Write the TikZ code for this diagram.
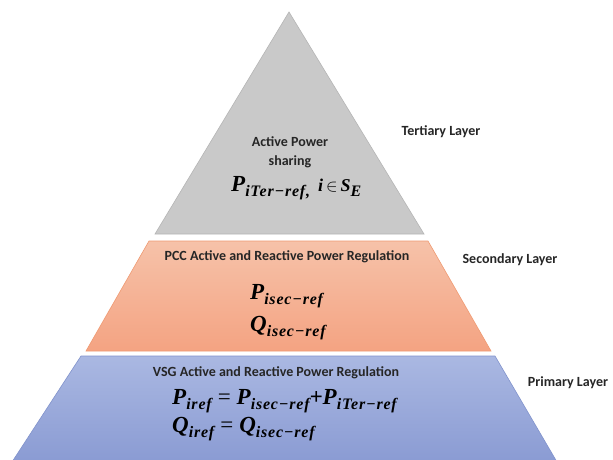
\documentclass[tikz,border=0pt]{standalone}
\usepackage{fontspec}
\setmainfont{Carlito}
\newfontfamily\lbl{Carlito}
\newfontfamily\mf{Liberation Serif}[UprightFont=*/BI]
\newfontfamily\subfnt{Liberation Serif}[UprightFont=*/BI, LetterSpace=5]
\newfontfamily\eqfnt{Liberation Serif}
\newcommand{\subx}[1]{\raisebox{-5pt}{\subfnt\fontsize{16}{16}\selectfont #1}}
\newcommand{\mn}{\char"2212}
\newcommand{\myeq}{\hspace{6pt}{\eqfnt=}\hspace{6pt}}
\begin{document}
\begin{tikzpicture}[x=1pt,y=-1pt,
  layer/.style={line width=0.6pt},
  lab/.style={font=\lbl\bfseries\fontsize{14}{16}\selectfont, text=black!85, inner sep=0pt},
  side/.style={font=\lbl\bfseries\fontsize{14}{16}\selectfont, text=black!85, inner sep=0pt},
  eq/.style={font=\mf\fontsize{23}{26}\selectfont, inner sep=0pt, anchor=west}
]
\definecolor{grayfill}{HTML}{C9C9C9}
\definecolor{orTop}{HTML}{F6C2A9}
\definecolor{orBot}{HTML}{F4A382}
\definecolor{orLine}{HTML}{F09A72}
\definecolor{blTop}{HTML}{AAB8E2}
\definecolor{blBot}{HTML}{8A9BD3}
\definecolor{blLine}{HTML}{8193CC}
\useasboundingbox (0,0) rectangle (613,460);
\fill[white] (0,0) rectangle (613,460);
% tertiary
\path[layer, fill=grayfill, draw=grayfill!90!black] (289,12) -- (424,234) -- (155,234) -- cycle;
% secondary
\path[layer, top color=orTop, bottom color=orBot, draw=orLine] (149,241) -- (428,241) -- (491,351) -- (86,351) -- cycle;
% primary
\path[layer, top color=blTop, bottom color=blBot, draw=blLine] (81,356) -- (495,356) -- (557,462) -- (12,462) -- cycle;

% tertiary text
\node[lab] (t1) at (290,142) {Active Power};
\node[lab] (t2) at (290,162) {sharing};
\node[eq] (t3) at (231,188) {P\subx{iTer\mn ref,}\hspace{8pt}{\fontsize{18}{18}\selectfont i\,$\in$\,S}\subx{E}};
% secondary text
\node[eq] (s2) at (250,296) {P\subx{isec\mn ref}};
\node[eq] (s3) at (250,328) {Q\subx{isec\mn ref}};
\node[lab] (s1) at (287,257) {PCC Active and Reactive Power Regulation};
% primary text
\node[lab] (p1) at (276,373) {VSG Active and Reactive Power Regulation};
\node[eq] (p2) at (172,401) {P\subx{iref}\myeq P\subx{isec\mn ref}+P\subx{iTer\mn ref}};
\node[eq] (p3) at (172,429) {Q\subx{iref}\myeq Q\subx{isec\mn ref}};
% side labels
\node[side] (L3) at (441,132) {Tertiary Layer};
\node[side] (L2) at (510,260) {Secondary Layer};
\node[side] (L1) at (568,383) {Primary Layer};
\end{tikzpicture}
\end{document}
